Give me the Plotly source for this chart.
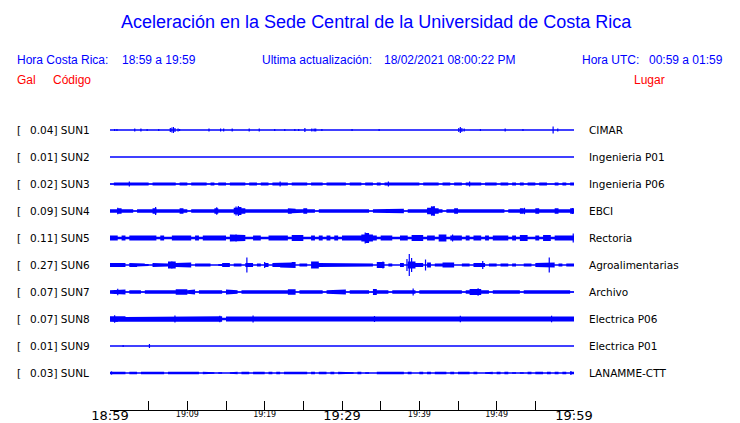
import plotly.graph_objects as go

# ---------------- data ----------------
codes = ["SUN1", "SUN2", "SUN3", "SUN4", "SUN5", "SUN6", "SUN7", "SUN8", "SUN9", "SUNL"]
peak_gal = ["0.04", "0.01", "0.02", "0.09", "0.11", "0.27", "0.07", "0.07", "0.01", "0.03"]
places = ["CIMAR", "Ingenieria P01", "Ingenieria P06", "EBCI", "Rectoria",
          "Agroalimentarias", "Archivo", "Electrica P06", "Electrica P01", "LANAMME-CTT"]

tick_minutes = [0, 5, 10, 15, 20, 25, 30, 35, 40, 45, 50, 55, 60]
major_ticks = [0, 30, 60]
major_labels = ["18:59", "19:29", "19:59"]
minor_ticks = [10, 20, 40, 50]
minor_labels = ["19:09", "19:19", "19:39", "19:49"]

BIN_MIN = 0.5  # minutes per envelope bin (120 bins = 60 minutes)

# envelope half-amplitudes (display units) per half-minute bin
sun3_env = [0.4,1.5,1.5,1.5,1.5,1.5,1.5,1.5,1.5,1.5, 0.4,1.5,1.5,1.5,1.5,1.5,1.5,0.4,1.5,1.5,
            0.4,1.5,1.5,1.5,1.5,0.4,1.5,0.4,1.5,1.5, 0.4,1.5,1.5,1.5,1.5,0.4,1.5,1.5,0.4,1.5,
            1.5,0.4,1.5,1.5,1.5,1.5,0.4,1.5,1.5,1.5, 1.5,0.4,1.5,1.5,1.5,0.4,1.5,1.5,1.5,1.5,
            1.5,0.4,1.5,1.5,1.5,0.4,1.5,1.5,0.4,1.5, 0.4,1.5,1.5,1.5,1.5,1.5,1.5,1.5,1.5,1.5,
            0.4,1.5,1.5,1.5,1.5,0.4,1.5,1.5,0.4,1.5, 1.5,0.4,1.5,1.5,1.5,1.5,0.4,1.5,1.5,1.5,
            0.4,1.5,1.5,0.4,1.5,0.4,1.5,0.4,1.5,1.5, 0.4,1.5,1.5,0.4,0.4,1.5,0.4,1.5,0.4,1.5]
sun4_env = [1.7,1.7,2.8,1.7,1.7,1.7,0.5,1.7,1.7,1.7, 1.7,2.8,1.7,1.7,1.7,1.7,1.7,1.7,2.8,1.7,
            0.5,1.7,2.2,1.7,1.7,2.2,1.7,2.7,1.7,1.7, 1.7,1.7,3.2,4.0,2.7,1.7,1.7,2.2,1.7,1.7,
            1.7,1.7,1.7,2.2,1.7,1.7,2.7,2.2,1.7,1.7, 2.7,1.7,1.7,0.5,1.7,1.7,2.2,1.7,1.7,1.7,
            2.2,1.7,1.7,1.7,1.7,1.7,1.7,0.5,1.7,1.7, 1.7,1.7,1.7,1.7,1.7,2.2,0.5,1.7,2.2,1.7,
            2.2,1.7,3.2,4.5,2.7,1.7,0.5,1.7,1.7,2.7, 1.7,1.7,1.7,1.7,2.2,1.7,1.7,1.7,1.7,1.7,
            1.7,1.7,0.5,1.7,1.7,1.7,2.7,1.7,2.2,1.7, 2.7,1.7,1.7,1.7,1.7,2.7,1.7,1.7,1.7,2.7]
sun5_env = [2.5,2.5,1.2,2.5,1.2,2.5,2.5,2.5,2.5,2.5, 2.5,2.5,1.2,2.5,1.2,1.2,2.5,2.5,2.5,2.5,
            2.5,1.2,2.5,1.2,2.5,3.0,3.0,3.0,3.0,2.5, 1.2,3.5,3.5,3.5,3.0,1.2,1.2,2.5,2.5,1.2,
            1.2,2.5,2.5,2.5,2.5,2.5,1.2,3.0,3.0,3.0, 1.2,1.2,2.5,1.2,2.5,1.2,2.5,1.2,2.5,1.2,
            2.5,2.5,2.5,2.5,2.5,3.5,5.0,3.5,2.5,1.2, 2.5,2.5,2.5,1.2,1.2,2.5,2.5,1.2,3.0,3.0,
            3.0,1.2,2.5,2.5,1.2,3.5,3.5,1.2,2.5,2.5, 2.5,1.2,2.5,1.2,2.5,2.5,1.2,2.5,1.2,2.5,
            2.5,2.5,2.5,1.2,2.5,1.2,3.0,3.0,1.2,1.2, 2.5,1.2,3.0,3.0,1.2,2.5,2.5,2.5,2.5,2.5]
sun6_env = [2,2,2,2,0,2,2,1.5,1.5,1, 0,2,2,1.5,1.5,3.5,3.5,2,2,2.5,
            2.5,0,1.5,2,2,1.5,0,0,1,2, 2,0,1.5,1.5,0,2,2,0,1.5,0,
            2,0,2,2,2.5,2.5,2.5,3,0,1.5, 1.5,0,3.5,3.5,2,2,2,2,2,2,
            2,2,1.5,1.5,2,2,2,1.5,0,3, 3,0,1.5,0,0,2,0,3.5,3.5,2,
            2,0,2.5,0,1.5,1.5,2.5,2.5,2.5,0, 0,1.5,1.5,0,2,2,2,0,1.5,1.5,
            0,1.5,1.5,0,1.5,0,0,1.5,1.5,0, 2,2.5,2.5,2.5,2.5,0,1.5,0,1.5,1.5]
sun7_env = [1.8,2.5,1.8,2.5,0.6,1.8,1.8,1.8,0.6,1.8, 1.8,2.5,1.8,1.8,2.5,1.8,1.8,2.7,2.7,2.7,
            1.8,2.5,0.6,1.8,1.8,1.8,1.8,1.8,1.8,0.6, 2.5,1.8,1.8,0.6,1.8,1.8,2.5,1.8,1.8,2.5,
            1.8,2.5,2.5,1.8,2.5,1.8,2.7,2.7,0.6,1.8, 1.8,1.8,1.8,1.8,1.8,0.6,1.8,1.8,1.8,1.8,
            2.5,0.6,1.8,1.8,1.8,1.8,1.8,0.6,3.0,1.8, 1.8,1.8,0.6,1.8,1.8,1.8,1.8,1.8,1.8,0.6,
            1.8,1.8,1.8,1.8,1.8,1.8,1.8,2.5,1.8,1.8, 1.8,0.6,1.8,3.0,3.0,3.0,1.8,1.8,0.6,1.8,
            2.5,1.8,2.5,1.8,1.8,1.8,0.6,1.8,1.8,2.5, 2.5,1.8,1.8,1.8,2.5,1.8,1.8,1.8,1.8,0.6]
sun8_env = [2.7,3.0,2.7,2.7,2.0,2.0,2.0,2.5,2.0,2.0, 2.5,2.0,2.0,2.0,2.5,2.5,2.0,2.5,2.7,2.7,
            2.7,2.7,2.0,2.5,2.5,2.0,2.7,2.7,2.7,1.2, 2.5,2.0,2.0,2.0,2.0,2.0,2.0,2.5,2.0,2.0,
            2.0,2.0,2.5,2.0,2.0,2.0,2.0,2.0,2.0,2.0, 2.0,2.0,2.5,2.0,2.0,2.0,2.5,2.0,2.0,2.0,
            2.0,2.0,2.0,2.5,2.0,2.0,2.0,2.5,2.5,2.0, 2.0,2.5,2.0,2.0,2.5,2.0,2.0,2.5,2.0,2.0,
            2.5,2.0,2.0,2.0,2.5,2.0,2.0,2.5,2.5,2.0, 2.5,2.7,2.7,2.0,2.0,2.0,2.0,2.0,2.0,2.0,
            2.0,2.0,2.5,2.0,2.0,2.0,2.0,2.0,2.0,2.0, 2.5,2.0,2.0,2.0,2.0,2.0,2.0,2.7,2.0,2.5]
sunl_env = [1.3,1.3,1.3,1.3,0,1.3,1.3,0,1.3,1.3, 1.3,1.3,1.3,1.3,0,1.3,1.3,0.8,1.3,1.3,
            1.3,1.3,1.3,0,1.3,1.3,0.8,0,0.8,0, 0,0.8,1.3,0,1.3,1.3,0,1.3,1.3,1.3,
            0,1.3,0,1.3,0,1.3,1.3,1.3,1.3,1.3, 1.3,0,1.3,0,1.3,1.3,0,1.3,0,1.3,
            1.3,1.3,0.8,0,1.3,0,0.8,0,0,1.3, 1.3,1.3,1.3,1.3,1.3,1.3,0,1.3,0,0,
            1.3,0,1.3,0,1.3,1.3,1.3,0,1.3,0, 1.3,1.3,1.3,0,1.3,0,0,0.8,1.3,0,
            1.3,0,1.3,0,0.8,0,0.8,0,1.3,0, 1.3,1.3,0,1.3,0,1.3,0,1.3,0,1.3]

# isolated spikes: time (minutes after 18:59) and half-amplitude (display units)
sun1_spk_t = [0.6, 0.9, 3.2, 4.0, 4.8, 6.3, 7.8, 8.0, 8.2, 8.4, 8.8, 9.0, 12.8, 14.3, 14.7, 15.8,
              18.0, 19.3, 21.3, 22.6, 23.9, 24.4, 25.2, 26.1, 26.4, 26.6, 27.4, 31.3, 34.8,
              45.1, 45.3, 45.5, 45.8, 47.9, 51.1, 53.4, 57.3, 57.9]
sun1_spk_a = [1, 1, 1.5, 1.5, 1, 1, 2, 2.5, 3, 2, 1.5, 1, 1.5, 1.5, 1.5, 1.5,
              1.5, 1.5, 1, 1, 1, 1, 2, 1.5, 1.5, 1.5, 1, 1, 1,
              2, 3, 2, 1.5, 1, 1.5, 1, 3.5, 1.5]
sun3_spk_t = [2.5, 22.0, 36.0, 46.5]
sun3_spk_a = [2.4, 2.4, 2.4, 2.4]
sun4_spk_t = [1.0, 5.9, 13.8, 16.3, 16.6, 41.6, 41.9, 53.6, 59.8]
sun4_spk_a = [3.2, 4.0, 3.8, 4.5, 5.0, 4.5, 5.0, 3.2, 3.0]
sun5_spk_t = [16.3, 33.0, 44.3, 59.9]
sun5_spk_a = [3.5, 5.5, 3.5, 4.5]
sun6_spk_t = [8.0, 17.7, 20.0, 35.3, 38.4, 38.7, 39.0, 40.8, 48.2, 56.8]
sun6_spk_a = [3.5, 7.5, 3.0, 3.5, 6.0, 11.0, 7.0, 5.5, 4.0, 7.5]
sun7_spk_t = [1.0, 39.2, 47.6]
sun7_spk_a = [3.2, 3.6, 3.8]
sun8_spk_t = [0.6, 8.4, 14.2, 18.5, 34.2, 45.3, 57.1]
sun8_spk_a = [3.8, 3.5, 3.3, 3.5, 3.0, 3.3, 3.3]
sun9_spk_t = [1.7, 5.1]
sun9_spk_a = [1.0, 2.0]
sunl_spk_t = [0.2, 59.6]
sunl_spk_a = [1.6, 2.0]

envelopes = [None, None, sun3_env, sun4_env, sun5_env, sun6_env, sun7_env, sun8_env, None, sunl_env]
spikes_t = [sun1_spk_t, [], sun3_spk_t, sun4_spk_t, sun5_spk_t, sun6_spk_t, sun7_spk_t, sun8_spk_t, sun9_spk_t, sunl_spk_t]
spikes_a = [sun1_spk_a, [], sun3_spk_a, sun4_spk_a, sun5_spk_a, sun6_spk_a, sun7_spk_a, sun8_spk_a, sun9_spk_a, sunl_spk_a]

# ---------------- layout constants ----------------
OFF = 8                      # page body margin
W, H = 740 - OFF, 423 - OFF  # figure size
L, R, T, B = 110 - OFF, 166, 115 - OFF, 13
PW, PH = W - L - R, H - T - B
ROW0, ROWGAP = 15, 27
BLUE, RED = "#0000ff", "#ff0000"
SANS = "Liberation Sans, Arial, sans-serif"
DJV = "DejaVu Sans, sans-serif"


def px_x(px):  # screen pixel -> paper x
    return (px - OFF - L) / PW


def px_y(py):  # screen pixel -> paper y
    return (H - B - (py - OFF)) / PH


fig = go.Figure()
t_end = tick_minutes[-1]

for i, code in enumerate(codes):
    c = ROW0 + ROWGAP * i
    fig.add_trace(go.Scatter(x=[0, t_end], y=[c, c], mode="lines",
                             line=dict(color=BLUE, width=1.3),
                             xaxis="x2" if i == 1 else "x", hoverinfo="skip"))
    env = envelopes[i]
    if env:
        xs, ys = [], []
        for k, a in enumerate(env):
            xs += [k * BIN_MIN, (k + 1) * BIN_MIN]
            ys += [c - a, c - a]
        for k in reversed(range(len(env))):
            a = env[k]
            xs += [(k + 1) * BIN_MIN, k * BIN_MIN]
            ys += [c + a, c + a]
        fig.add_trace(go.Scatter(x=xs, y=ys, mode="lines", fill="toself", fillcolor=BLUE,
                                 line=dict(color=BLUE, width=0), hoverinfo="skip"))
    if spikes_t[i]:
        xs, ys = [], []
        for t, a in zip(spikes_t[i], spikes_a[i]):
            xs += [t, t, None]
            ys += [c - a, c + a, None]
        fig.add_trace(go.Scatter(x=xs, y=ys, mode="lines",
                                 line=dict(color=BLUE, width=1.2), hoverinfo="skip"))

ann = []
for i, code in enumerate(codes):
    yp = px_y(130 + ROWGAP * i)
    ann.append(dict(text="[", x=px_x(15), y=yp, xanchor="left", yanchor="middle",
                    font=dict(family=DJV, size=10.5, color="black")))
    ann.append(dict(text=f"{peak_gal[i]}] {code}", x=px_x(28), y=yp, xanchor="left",
                    yanchor="middle", font=dict(family=DJV, size=10.5, color="black")))
    ann.append(dict(text=places[i], x=px_x(587), y=yp, xanchor="left", yanchor="middle",
                    font=dict(family=DJV, size=10.5, color="black")))

ann.append(dict(text="Aceleración en la Sede Central de la Universidad de Costa Rica",
                x=px_x(376), y=px_y(22), xanchor="center", yanchor="middle",
                font=dict(family=SANS, size=18, color=BLUE)))
hdr = [("Hora Costa Rica:", 15, "left"), ("18:59 a 19:59", 120, "left"),
       ("Ultima actualización:", 260, "left"), ("18/02/2021 08:00:22 PM", 382, "left"),
       ("Hora UTC:", 580, "left"), ("00:59 a 01:59", 725, "right")]
for txt, xp, anc in hdr:
    ann.append(dict(text=txt, x=px_x(xp), y=px_y(60), xanchor=anc, yanchor="middle",
                    font=dict(family=SANS, size=12, color=BLUE)))
for txt, xp in [("Gal", 15), ("Código", 51), ("Lugar", 632)]:
    ann.append(dict(text=txt, x=px_x(xp), y=px_y(80), xanchor="left", yanchor="middle",
                    font=dict(family=SANS, size=12, color=RED)))
for a in ann:
    a.update(xref="paper", yref="paper", showarrow=False)

tick_text = [major_labels[major_ticks.index(m)] if m in major_ticks else "" for m in tick_minutes]

fig.update_layout(
    width=W, height=H, margin=dict(l=L, r=R, t=T, b=B, pad=0, autoexpand=False),
    paper_bgcolor="white", plot_bgcolor="white", showlegend=False, hovermode=False,
    annotations=ann,
    xaxis=dict(range=[0, t_end], tickvals=tick_minutes, ticktext=tick_text,
               tickfont=dict(family=DJV, size=13, color="black"),
               ticks="inside", ticklen=9, tickwidth=1, tickcolor="black",
               ticklabelstandoff=-7,
               showline=True, linecolor="black", linewidth=1, automargin=False,
               showgrid=False, zeroline=False, fixedrange=True),
    xaxis2=dict(range=[0, t_end], overlaying="x", anchor="y", side="bottom",
                tickvals=minor_ticks, ticktext=minor_labels, automargin=False,
                tickfont=dict(family=DJV, size=8, color="black"),
                ticklabelstandoff=-2,
                ticks="", showline=False, showgrid=False, zeroline=False),
    yaxis=dict(range=[PH, 0], visible=False, fixedrange=True, automargin=False),
)

fig.write_html("out.html")
